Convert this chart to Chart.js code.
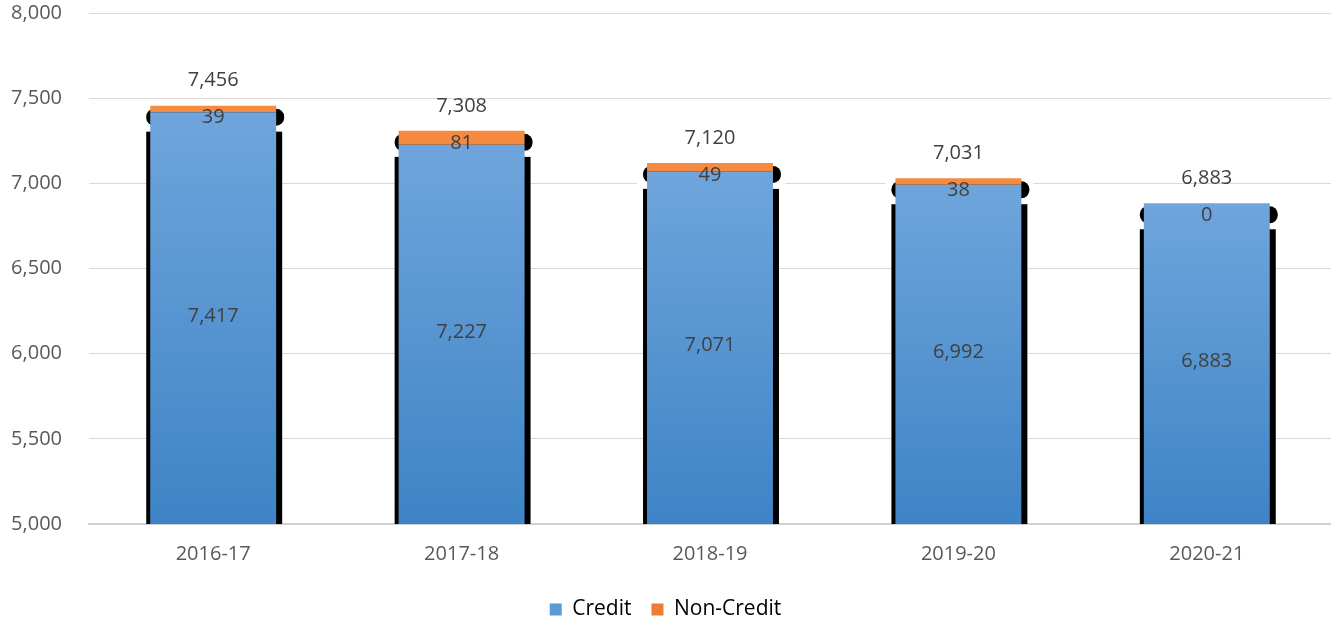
<!DOCTYPE html>
<html>
<head>
<meta charset="utf-8">
<script src="https://cdn.jsdelivr.net/npm/chart.js@4/dist/chart.umd.min.js"></script>
<style>
  html, body { margin: 0; padding: 0; background: #fff; }
  #wrap { width: 1331px; height: 622px; }
</style>
</head>
<body>
<div id="wrap"><canvas id="enrollChart" width="1331" height="622"></canvas></div>
<script>
// chart values
var years = ['2016-17', '2017-18', '2018-19', '2019-20', '2020-21'];
var credit = [7417, 7227, 7071, 6992, 6883];
var nonCredit = [39, 81, 49, 38, 0];
var totals = [7456, 7308, 7120, 7031, 6883];
var yTicks = [5000, 5500, 6000, 6500, 7000, 7500, 8000];

var FONT = "'Open Sans', 'DejaVu Sans', sans-serif";
var fmt = function(v) { return v.toLocaleString('en-US'); };

function barGradient(ctx, topVal, light, dark) {
    var chart = ctx.chart;
    var area = chart.chartArea;
    if (!area || !chart.scales.y) return dark;
    var yTop = chart.scales.y.getPixelForValue(topVal);
    var g = chart.ctx.createLinearGradient(0, yTop, 0, area.bottom);
    g.addColorStop(0, light);
    g.addColorStop(1, dark);
    return g;
}

// black Excel-style shadow behind each stack
var shadowPlugin = {
    id: 'barShadow',
    beforeDatasetsDraw: function(chart) {
        var c = chart.ctx;
        var area = chart.chartArea;
        var m0 = chart.getDatasetMeta(0), m1 = chart.getDatasetMeta(1);
        c.save();
        m0.data.forEach(function(bar, i) {
            var left = bar.x - bar.width / 2;
            var top = Math.min(m1.data[i].y, bar.y);
            var base = area.bottom;
            c.fillStyle = '#fff';
            c.fillRect(left - 10, top - 6, bar.width + 22, 32);
            c.fillStyle = '#000';
            c.beginPath();
            c.roundRect(left - 4, top + 3, bar.width + 12, 17, 8);
            c.fill();
            c.fillRect(left - 4, top + 26, bar.width + 10, base - top - 26);
        });
        c.restore();
    }
};

var labelPlugin = {
    id: 'valueLabels',
    afterDatasetsDraw: function(chart) {
        var c = chart.ctx;
        var area = chart.chartArea;
        var m0 = chart.getDatasetMeta(0), m1 = chart.getDatasetMeta(1);
        c.save();
        c.font = '20px ' + FONT;
        c.fillStyle = '#404040';
        c.textAlign = 'center';
        c.textBaseline = 'middle';
        m0.data.forEach(function(bar, i) {
            var top = Math.min(m1.data[i].y, bar.y);
            c.fillText(fmt(credit[i]), bar.x, (bar.y + area.bottom) / 2 - 2);
            c.fillText(fmt(nonCredit[i]), bar.x, top + 12);
            c.fillText(fmt(totals[i]), bar.x, top - 25);
        });
        c.restore();
    }
};

var ctx = document.getElementById('enrollChart').getContext('2d');
new Chart(ctx, {
    type: 'bar',
    data: {
        labels: years,
        datasets: [
            {
                label: 'Credit',
                data: credit,
                backgroundColor: function(context) {
                    if (context.dataIndex === undefined) return '#5B9BD5';
                    return barGradient(context, credit[context.dataIndex], '#6fa5dc', '#3e84c6');
                },
                categoryPercentage: 1,
                barPercentage: 0.507
            },
            {
                label: 'Non-Credit',
                data: nonCredit,
                backgroundColor: function(context) {
                    if (context.dataIndex === undefined) return '#ED7D31';
                    return barGradient(context, totals[context.dataIndex], '#f48b40', '#d9641a');
                },
                categoryPercentage: 1,
                barPercentage: 0.507
            }
        ]
    },
    options: {
        responsive: false,
        animation: false,
        layout: { padding: { top: 0, right: 0, bottom: -8, left: 0 } },
        plugins: {
            tooltip: { enabled: false },
            legend: {
                display: true,
                position: 'bottom',
                labels: {
                    font: { family: FONT, size: 21 },
                    color: '#595959',
                    boxWidth: 12,
                    boxHeight: 12,
                    padding: 20,
                    generateLabels: function(chart) {
                        var cols = ['#5B9BD5', '#ED7D31'];
                        return chart.data.datasets.map(function(ds, i) {
                            return { text: ds.label, fillStyle: cols[i], strokeStyle: cols[i], lineWidth: 0, datasetIndex: i };
                        });
                    }
                }
            }
        },
        scales: {
            x: {
                stacked: true,
                grid: { display: false },
                border: { color: '#d0d0d0', width: 2 },
                afterFit: function(scale) { scale.height = scale.height + 3; },
                ticks: { font: { family: FONT, size: 20 }, color: '#595959', padding: 10 }
            },
            y: {
                stacked: true,
                min: 5000,
                max: 8000,
                afterFit: function(scale) {
                    scale.width = 89;
                    scale.paddingTop = 13;
                    scale.paddingBottom = 0;
                },
                afterBuildTicks: function(scale) {
                    scale.ticks = yTicks.map(function(v) { return { value: v }; });
                },
                grid: { color: '#d9d9d9', drawTicks: false },
                border: { display: false },
                ticks: {
                    font: { family: FONT, size: 20 },
                    color: '#595959',
                    padding: 27,
                    callback: function(v) { return fmt(v); }
                }
            }
        }
    },
    plugins: [shadowPlugin, labelPlugin]
});
</script>
</body>
</html>
